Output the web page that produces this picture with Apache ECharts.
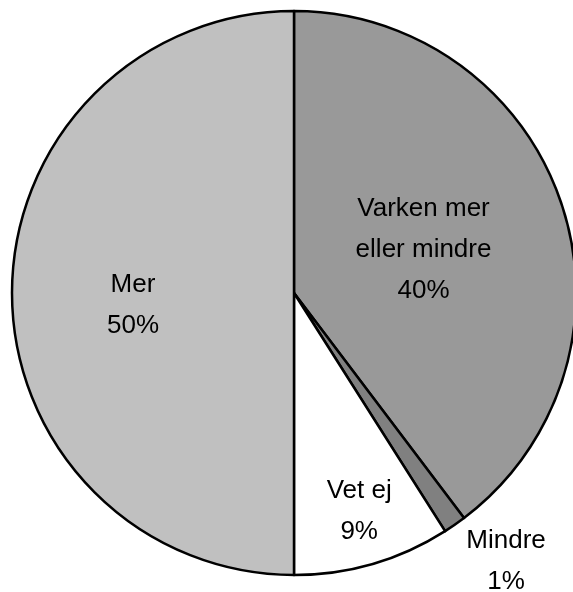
<!DOCTYPE html>
<html><head><meta charset="utf-8">
<script src="https://cdn.jsdelivr.net/npm/echarts@6/dist/echarts.min.js"></script>
<style>html,body{margin:0;padding:0;background:#fff}#c{width:573px;height:592px}</style>
</head><body><div id="c"></div>
<script>
const categories = ['Varken mer\neller mindre', 'Mindre', 'Vet ej', 'Mer'];
const values = [39.7, 1.3, 9.0, 50.0];
const colors = ['#999999', '#808080', '#ffffff', '#c0c0c0'];
const labelOffsets = [[-7, 3], [130, 150], [25, 80], [-17, 12]];

const chart = echarts.init(document.getElementById('c'), null, {renderer: 'canvas'});
chart.setOption({
  animation: false,
  backgroundColor: '#ffffff',
  series: [{
    type: 'pie',
    center: [294, 293],
    radius: [0, 282],
    startAngle: 90,
    clockwise: true,
    percentPrecision: 0,
    avoidLabelOverlap: false,
    itemStyle: {borderColor: '#000', borderWidth: 2.5},
    label: {
      position: 'inside',
      formatter: '{b}\n{d}%',
      fontFamily: 'Liberation Sans, Arial, sans-serif',
      fontSize: 26,
      lineHeight: 41,
      color: '#000',
      align: 'center'
    },
    labelLine: {show: false},
    emphasis: {disabled: true},
    data: categories.map((c, i) => ({
      name: c, value: values[i],
      itemStyle: {color: colors[i]},
      label: {offset: labelOffsets[i]}
    }))
  }]
});
</script></body></html>
